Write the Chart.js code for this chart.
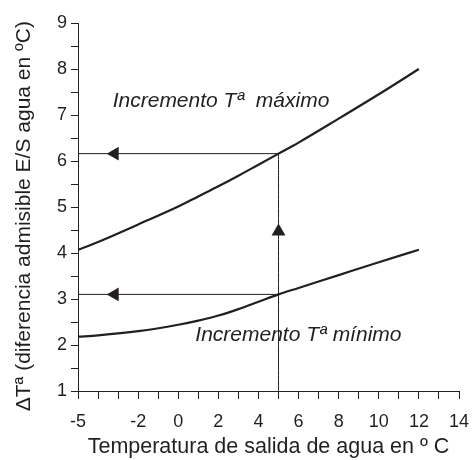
<!DOCTYPE html>
<html>
<head>
<meta charset="utf-8">
<script src="https://cdn.jsdelivr.net/npm/chart.js@4/dist/chart.umd.min.js"></script>
<style>
  html, body { margin: 0; padding: 0; background: #fff; }
</style>
</head>
<body>
<canvas id="chart" width="472" height="460"></canvas>
<script>
// Values
const tempX    = [-5, -4, -2, 0, 1, 2, 3, 4, 5, 6, 8, 10, 12];
const maxDelta = [4.07, 4.24, 4.62, 5.01, 5.23, 5.45, 5.68, 5.92, 6.16, 6.4, 6.92, 7.45, 8.0];
const minDelta = [2.18, 2.21, 2.3, 2.44, 2.53, 2.64, 2.78, 2.94, 3.1, 3.24, 3.52, 3.8, 4.07];

// reading example at 5 ºC: up to the curves, across to the axis
const guideUpX = [5, 5];      const guideUpY = [1, 6.16];
const guideMaxX = [-5, 5];    const guideMaxY = [6.16, 6.16];
const guideMinX = [-5, 5];    const guideMinY = [3.1, 3.1];
const arrowX = [-3.17, -3.17, 5];
const arrowY = [6.16, 3.1, 4.47];
const arrowRot = [-90, -90, 0];

const xTicks = [];
for (let v = -5; v <= 14; v++) xTicks.push(v);
const xLabels = [-5, -2, 0, 2, 4, 6, 8, 10, 12, 14];
const yTicks = [];
for (let v = 1; v <= 9; v += 0.5) yTicks.push(v);

const xTitle = 'Temperatura de salida de agua en \u00ba C';
const yTitle = '\u0394T\u00aa (diferencia admisible E/S agua en \u00baC)';

const notes = [
  { text: 'Incremento T\u00aa  m\u00e1ximo', x: -3.27, y: 7.18 },
  { text: 'Incremento T\u00aa m\u00ednimo', x: 0.85, y: 2.09 }
];

const ink = '#231f20';
const font = '"Liberation Sans", Arial, sans-serif';
const pts = (xs, ys) => xs.map((x, i) => ({ x: x, y: ys[i] }));

function lineSet(data, width) {
  return {
    data: data,
    showLine: true,
    borderColor: ink,
    borderWidth: width,
    pointRadius: 0,
    fill: false,
    cubicInterpolationMode: 'monotone'
  };
}

// curve captions and the vertical axis title (sits a bit below the plot centre)
const notesPlugin = {
  id: 'notes',
  afterDatasetsDraw(chart) {
    const ctx = chart.ctx;
    const xs = chart.scales.x, ys = chart.scales.y;
    ctx.save();
    ctx.fillStyle = ink;
    ctx.font = 'italic 21px ' + font;
    ctx.textAlign = 'left';
    ctx.textBaseline = 'alphabetic';
    notes.forEach(n => {
      ctx.fillText(n.text, xs.getPixelForValue(n.x), ys.getPixelForValue(n.y));
    });
    ctx.translate(24, ys.getPixelForValue(4.8));
    ctx.rotate(-Math.PI / 2);
    ctx.font = '21px ' + font;
    ctx.textAlign = 'center';
    ctx.textBaseline = 'middle';
    ctx.fillText(yTitle, 0, 0);
    ctx.restore();
  }
};

Chart.defaults.font.family = font;
Chart.defaults.color = ink;

new Chart(document.getElementById('chart'), {
  type: 'scatter',
  data: {
    datasets: [
      lineSet(pts(guideUpX, guideUpY), 1),
      lineSet(pts(guideMaxX, guideMaxY), 1),
      lineSet(pts(guideMinX, guideMinY), 1),
      lineSet(pts(tempX, maxDelta), 2.2),
      lineSet(pts(tempX, minDelta), 2.2),
      {
        data: pts(arrowX, arrowY),
        pointStyle: 'triangle',
        rotation: arrowRot,
        pointRadius: 8,
        backgroundColor: ink,
        borderColor: ink,
        borderWidth: 0
      }
    ]
  },
  options: {
    responsive: false,
    animation: false,
    layout: { padding: { top: 23, right: 13, left: 0, bottom: 0 } },
    plugins: { legend: { display: false }, tooltip: { enabled: false } },
    scales: {
      x: {
        type: 'linear',
        min: -5,
        max: 14,
        afterBuildTicks: s => { s.ticks = xTicks.map(v => ({ value: v })); },
        afterFit: s => { s.height = 69; s.paddingLeft = 0; s.paddingRight = 0; },
        ticks: {
          autoSkip: false,
          maxRotation: 0,
          padding: 12,
          font: { size: 18 },
          color: ink,
          callback: v => xLabels.includes(v) ? String(v) : ''
        },
        grid: { drawOnChartArea: false, tickLength: 8, color: ink, tickWidth: 1 },
        border: { color: ink, width: 1 },
        title: {
          display: true,
          text: xTitle,
          font: { size: 21.5 },
          color: ink,
          padding: { top: 0, bottom: 0 }
        }
      },
      y: {
        min: 1,
        max: 9,
        afterBuildTicks: s => { s.ticks = yTicks.map(v => ({ value: v })); },
        afterFit: s => { s.width = 78; s.paddingTop = 0; s.paddingBottom = 0; },
        ticks: {
          autoSkip: false,
          padding: 4,
          font: { size: 18 },
          color: ink,
          callback: v => Number.isInteger(v) ? String(v) : ''
        },
        grid: { drawOnChartArea: false, tickLength: 7, color: ink, tickWidth: 1 },
        border: { color: ink, width: 1 },
        title: { display: false }
      }
    }
  },
  plugins: [notesPlugin]
});
</script>
</body>
</html>
